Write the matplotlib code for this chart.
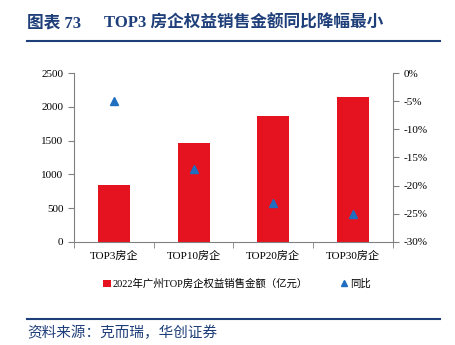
import matplotlib

matplotlib.use("Agg")
import matplotlib.pyplot as plt
from matplotlib.lines import Line2D
from matplotlib.patches import Patch

plt.rcParams["font.family"] = ["Liberation Serif", "Noto Sans CJK SC"]

categories = ["TOP3房企", "TOP10房企", "TOP20房企", "TOP30房企"]
sales = [850, 1460, 1870, 2150]          # 亿元
yoy = [-5.0, -17.0, -23.0, -25.0]         # %

RED = "#E5131F"
BLUE = "#1F6EBF"
NAVY = "#1F3F7A"
GREY = "#808080"

fig = plt.figure(figsize=(4.55, 3.45), dpi=100)
ax = fig.add_axes([0.1626, 0.2986, 0.7011, 0.4898])
ax2 = ax.twinx()

x = list(range(len(categories)))
ax.bar(x, sales, width=0.4, color=RED, zorder=2)
ax2.plot(x, yoy, linestyle="none", marker="^", markersize=6, color=BLUE, zorder=3)

ax.set_xlim(-0.5, len(categories) - 0.5)
ax.set_ylim(0, 2500)
ax.set_yticks(range(0, 2501, 500))
ax2.set_ylim(-30, 0)
ax2.set_yticks(range(-30, 1, 5))
ax2.set_yticklabels([f"{v}%" for v in range(-30, 1, 5)])

ax.set_xticks(x)
ax.set_xticklabels(categories)
ax.set_xticks([i + 0.5 for i in range(-1, len(categories))], minor=True)
ax.tick_params(axis="x", which="major", length=0, pad=6, labelsize=8)
ax.tick_params(axis="x", which="minor", length=4, direction="out", color=GREY)
ax.tick_params(axis="y", length=4, direction="out", color=GREY, labelsize=8)
ax2.tick_params(axis="y", length=4, direction="out", color=GREY, labelsize=8)

for a in (ax, ax2):
    a.spines["top"].set_visible(False)
    for s in ("left", "right", "bottom"):
        a.spines[s].set_color(GREY)
ax.spines["right"].set_visible(False)
ax2.spines["left"].set_visible(False)
ax2.spines["bottom"].set_visible(False)

handles = [
    Patch(facecolor=RED, edgecolor="none"),
    Line2D([], [], linestyle="none", marker="^", markersize=5, color=BLUE),
]
fig.legend(handles, ["2022年广州TOP房企权益销售金额（亿元）", "同比"],
           loc="center", bbox_to_anchor=(0.52, 0.177), ncol=2, frameon=False,
           fontsize=7.5, handlelength=0.8, handletextpad=0.2, columnspacing=3.0)

# title and source lines
fig.text(0.06, 0.933, "图表 73", fontsize=12, fontweight="bold",
         color=NAVY, va="center")
fig.text(0.229, 0.933, "TOP3 房企权益销售金额同比降幅最小", fontsize=12,
         fontweight="bold", color=NAVY, va="center")
fig.add_artist(Line2D([0.06, 0.967], [1 - 41 / 345] * 2, color=NAVY, linewidth=1.5))
fig.add_artist(Line2D([0.06, 0.967], [1 - 319 / 345] * 2, color=NAVY, linewidth=1.5))
fig.text(0.06, 1 - 333 / 345, "资料来源：克而瑞，华创证券",
         fontsize=10.5, color=NAVY, va="center", style="italic")

fig.savefig("out.png", dpi=100)
